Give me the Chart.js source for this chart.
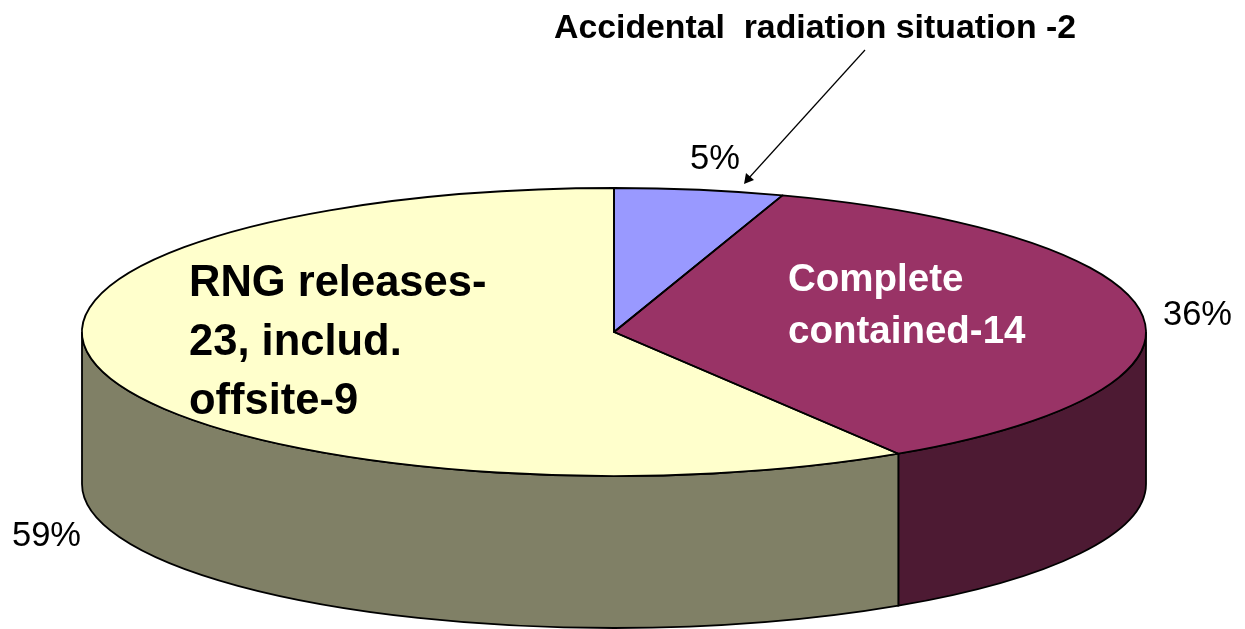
<!DOCTYPE html>
<html>
<head>
<meta charset="utf-8">
<style>
    html, body { margin: 0; padding: 0; background: #fff; overflow: hidden; }
    #wrap { position: relative; width: 1245px; height: 629px; }
</style>
<script src="https://cdn.jsdelivr.net/npm/chart.js@4/dist/chart.umd.min.js"></script>
</head>
<body>
<div id="wrap"><canvas id="pieChart" width="1245" height="629"></canvas></div>
<script>
// Donnees
const categories = ['Accidental radiation situation', 'Complete contained', 'RNG releases'];
const counts = [2, 14, 23];

const topColors = ['#9999ff', '#993366', '#ffffcc'];
const sideColors = ['#4d4d80', '#4d1a33', '#808066'];

const FONT = '"Liberation Sans", Arial, sans-serif';
const RX = 532;
const RY = 144;
const DEPTH = 152;

const total = counts.reduce((a, b) => a + b, 0);
const percents = counts.map((v) => Math.round((v / total) * 100) + '%');

function drawText(ctx, lines, x, y, lineHeight, font, color) {
    ctx.font = font;
    ctx.fillStyle = color;
    ctx.textBaseline = 'alphabetic';
    ctx.textAlign = 'left';
    lines.forEach((line, i) => ctx.fillText(line, x, y + i * lineHeight));
}

// Le camembert 3D : flanc dessine avant, disque ecrase, contours et textes apres
const pie3d = {
    id: 'pie3d',
    beforeDatasetsDraw(chart) {
        const ctx = chart.ctx;
        const arcs = chart.getDatasetMeta(0).data;
        ctx.save();
        ctx.strokeStyle = '#000';
        ctx.lineWidth = 1.8;
        arcs.forEach((arc, i) => {
            const a = Math.max(arc.startAngle, 0);
            const b = Math.min(arc.endAngle, Math.PI);
            if (b <= a) return;
            ctx.beginPath();
            ctx.ellipse(arc.x, arc.y, RX, RY, 0, a, b);
            ctx.ellipse(arc.x, arc.y + DEPTH, RX, RY, 0, b, a, true);
            ctx.closePath();
            ctx.fillStyle = sideColors[i];
            ctx.fill();
            ctx.stroke();
        });
        ctx.restore();

        const first = arcs[0];
        ctx.save();
        ctx.translate(first.x, first.y);
        ctx.scale(1, RY / RX);
        ctx.translate(-first.x, -first.y);
    },
    afterDatasetsDraw(chart) {
        const ctx = chart.ctx;
        ctx.restore();

        const arcs = chart.getDatasetMeta(0).data;
        ctx.save();
        ctx.strokeStyle = '#000';
        ctx.lineWidth = 1.8;
        ctx.lineJoin = 'round';
        arcs.forEach((arc) => {
            ctx.beginPath();
            ctx.moveTo(arc.x, arc.y);
            ctx.ellipse(arc.x, arc.y, RX, RY, 0, arc.startAngle, arc.endAngle);
            ctx.closePath();
            ctx.stroke();
        });
        ctx.restore();

        // fleche vers la tranche de 5%
        ctx.save();
        ctx.strokeStyle = '#000';
        ctx.fillStyle = '#000';
        ctx.lineWidth = 1.2;
        ctx.beginPath();
        ctx.moveTo(865, 50);
        ctx.lineTo(748, 179);
        ctx.stroke();
        ctx.beginPath();
        ctx.moveTo(744, 184);
        ctx.lineTo(746, 173);
        ctx.lineTo(754, 180);
        ctx.closePath();
        ctx.fill();
        ctx.restore();

        const plain = '34.5px ' + FONT;
        drawText(ctx, ['Accidental  radiation situation -2'], 554, 38, 0, 'bold 33.8px ' + FONT, '#000');
        drawText(ctx, ['RNG releases-', '23, includ.', 'offsite-9'], 189, 296, 59, 'bold 43.5px ' + FONT, '#000');
        drawText(ctx, ['Complete', 'contained-14'], 788, 291, 52, 'bold 38.5px ' + FONT, '#fff');
        drawText(ctx, [percents[0]], 690, 169, 0, plain, '#000');
        drawText(ctx, [percents[1]], 1163, 325, 0, plain, '#000');
        drawText(ctx, [percents[2]], 12, 546, 0, plain, '#000');
    },
};

const pieCanvas = document.querySelector('#pieChart');
const pieChart = new Chart(pieCanvas, {
    type: 'pie',
    data: {
        labels: categories,
        datasets: [
            {
                data: counts,
                backgroundColor: topColors,
                borderWidth: 0,
                clip: false,
                radius: RX,
            },
        ],
    },
    options: {
        responsive: false,
        animation: false,
        layout: { padding: { top: 35, right: 17 } },
        plugins: {
            legend: { display: false },
            tooltip: { enabled: false },
        },
    },
    plugins: [pie3d],
});
</script>
</body>
</html>
